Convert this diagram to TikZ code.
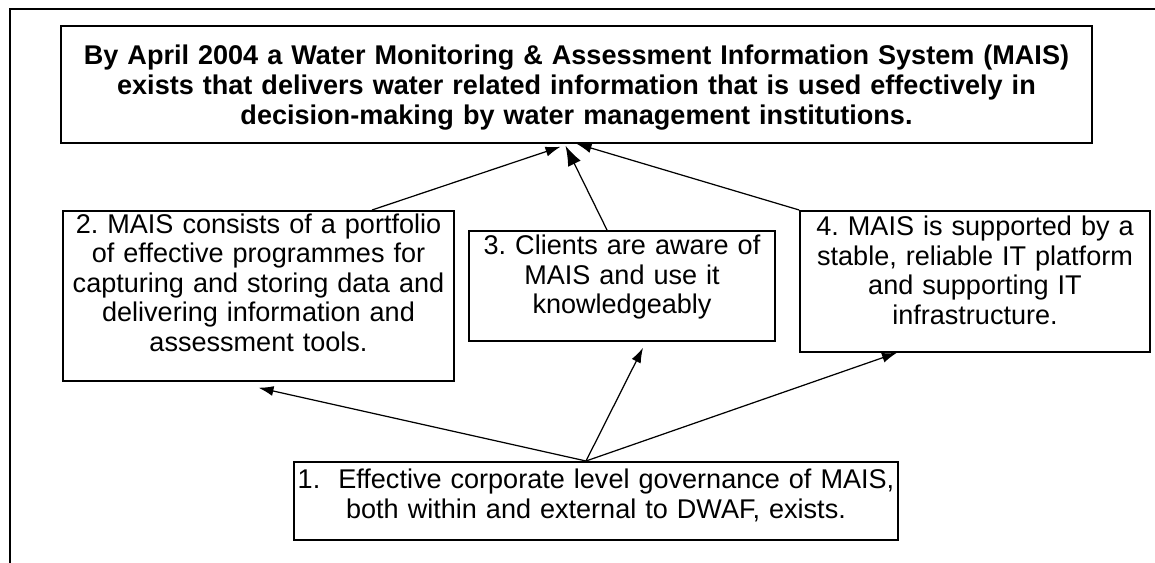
\documentclass[tikz,border=0pt]{standalone}
\usepackage{fontspec}
\setmainfont{Liberation Sans}
\usetikzlibrary{arrows.meta,calc}
\tikzset{>={Latex[length=0.3cm,width=0.2cm]}}
\frenchspacing

\begin{document}
\begin{tikzpicture}[x=0.02cm, y=-0.02cm]
	\tikzstyle{box} = [draw=black, line width=1pt, anchor=north, align=center, inner xsep=0.04cm, inner ysep=0pt, font=\fontsize{15.4pt}{16.8pt}\selectfont]
	\tikzstyle{goalbox} = [box, font=\bfseries\fontsize{15.4pt}{17.1pt}\selectfont]
	\tikzstyle{edge} = [->, line width=0.7pt]

	\useasboundingbox (0,0) rectangle (1155,563);
	\draw[line width=1.1pt] (1155,9) -- (10,9) -- (10,563);

%----------Goal:------------------------------
	\node[goalbox, text width=20.54cm, text height=0.78cm, text depth=1.56cm] (goal) at (576.5,25)
		{By April 2004 a Water Monitoring \& Assessment Information System (MAIS)\\
		 exists that delivers water related information that is used effectively in\\
		 decision-making by water management institutions.};

%----------Outputs 2, 3, 4------------------------------
	\node[box, text width=7.74cm, text height=0.45cm, text depth=2.95cm] (out2) at (258.5,210)
		{2. MAIS consists of a portfolio\\ of effective programmes for\\ capturing and storing data and\\ delivering information and\\ assessment tools.};
	\node[box, text width=6.04cm, text height=0.48cm, text depth=1.72cm] (out3) at (622,230)
		{3. Clients are aware of\\ MAIS and use it\\ knowledgeably};
	\node[box, text width=6.92cm, text height=0.5cm, text depth=2.32cm] (out4) at (975,210)
		{4. MAIS is supported by a\\ stable, reliable IT platform\\ and supporting IT\\ infrastructure.};

	\draw[edge] ($(out2.north)+(113.5,0)$) -- ($(goal.south)+(-16,3)$);
	\draw[->, line width=0.7pt, >={Latex[length=0.4cm,width=0.28cm]}] ($(out3.north)+(-15,0)$) -- ($(goal.south)+(-11,2)$);
	\draw[edge] (out4.north west) -- (goal.south);

%----------Output 1------------------------------
	\node[box, text width=12cm, text height=0.54cm, text depth=1.02cm] (out1) at (596,461)
		{1.\ \ Effective corporate level governance of MAIS,\\ both within and external to DWAF, exists.};

	\draw[edge] ($(out1.north)+(-10,0)$) -- ($(out2.south)+(0,6)$);
	\draw[edge] ($(out1.north)+(-10,0)$) -- ($(out3.south)+(21,6)$);
	\draw[edge] ($(out1.north)+(-10,0)$) -- ($(out4.south)+(-78,0)$);
\end{tikzpicture}
\end{document}
